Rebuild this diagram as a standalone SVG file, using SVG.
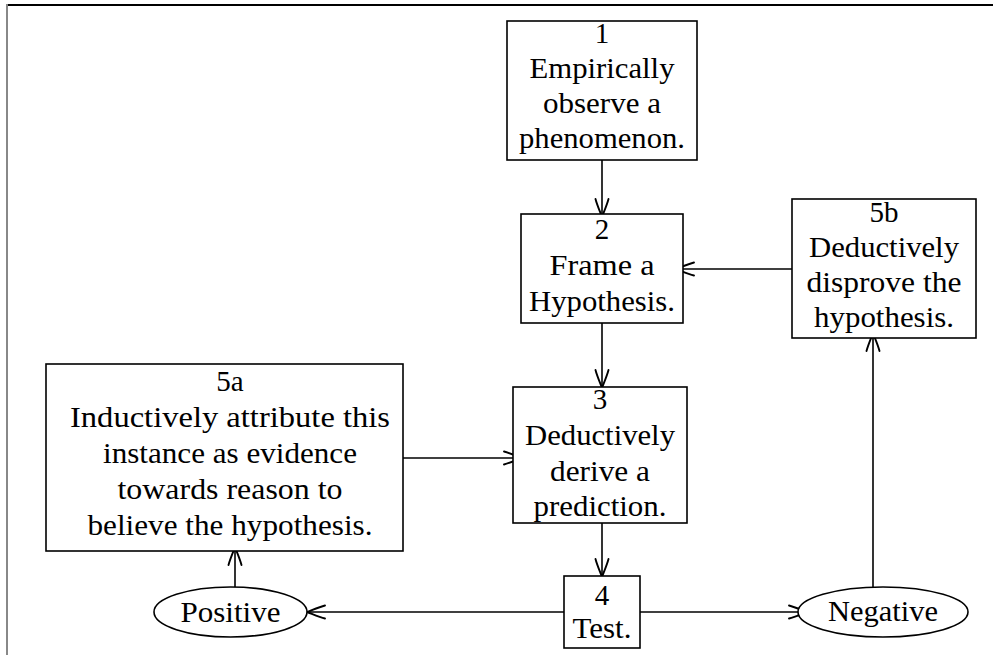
<svg xmlns="http://www.w3.org/2000/svg" width="993" height="655" viewBox="0 0 993 655">
<style>
.box{fill:#fff;stroke:#000;stroke-width:1.6}
.t{font-family:'Liberation Serif','Times New Roman',serif;font-size:29px;fill:#000;text-anchor:middle}
.c{fill:none;stroke:#000;stroke-width:1.6;marker-end:url(#to)}
</style>
<defs>
<marker id="to" markerUnits="userSpaceOnUse" markerWidth="24" markerHeight="24" refX="19" refY="10" orient="auto" overflow="visible">
<path d="M 1,3.5 C 7,5 15,8.6 19,10 C 15,11.4 7,15 1,16.5" fill="none" stroke="#000" stroke-width="1.9" stroke-linecap="round"/>
</marker>
</defs>
<rect width="993" height="655" fill="#fff"/>
<g id="frame">
<line x1="6" y1="5" x2="993" y2="5" stroke="#000" stroke-width="2"/>
<line x1="7" y1="4" x2="7" y2="655" stroke="#888" stroke-width="2"/>
</g>
<g id="connectors">
<line class="c" x1="602" y1="160" x2="602" y2="217"/>
<line class="c" x1="602" y1="323" x2="602" y2="388"/>
<line class="c" x1="602" y1="523" x2="602" y2="577"/>
<line class="c" x1="792" y1="269" x2="676" y2="269"/>
<line class="c" x1="403" y1="458" x2="522" y2="458"/>
<line class="c" x1="564" y1="612" x2="307" y2="612"/>
<line class="c" x1="640" y1="612" x2="807" y2="612"/>
<line class="c" x1="235" y1="587" x2="235" y2="547"/>
<line class="c" x1="873" y1="587" x2="873" y2="333"/>
</g>
<g id="n1">
<rect class="box" x="507" y="21" width="190" height="139"/>
<text class="t" x="602" y="43">1</text>
<text class="t" x="602" y="78" textLength="145" lengthAdjust="spacingAndGlyphs">Empirically</text>
<text class="t" x="602" y="113" textLength="118" lengthAdjust="spacingAndGlyphs">observe a</text>
<text class="t" x="602" y="148" textLength="166" lengthAdjust="spacingAndGlyphs">phenomenon.</text>
</g>
<g id="n2">
<rect class="box" x="521" y="214" width="162" height="109"/>
<text class="t" x="602" y="239">2</text>
<text class="t" x="602" y="275" textLength="105" lengthAdjust="spacingAndGlyphs">Frame a</text>
<text class="t" x="602" y="311" textLength="146" lengthAdjust="spacingAndGlyphs">Hypothesis.</text>
</g>
<g id="n5b">
<rect class="box" x="792" y="199" width="184" height="139"/>
<text class="t" x="884" y="222">5b</text>
<text class="t" x="884" y="257" textLength="150" lengthAdjust="spacingAndGlyphs">Deductively</text>
<text class="t" x="884" y="292" textLength="155" lengthAdjust="spacingAndGlyphs">disprove the</text>
<text class="t" x="884" y="327" textLength="140" lengthAdjust="spacingAndGlyphs">hypothesis.</text>
</g>
<g id="n5a">
<rect class="box" x="46" y="364" width="357" height="187"/>
<text class="t" x="230" y="391">5a</text>
<text class="t" x="230" y="427" textLength="320" lengthAdjust="spacingAndGlyphs">Inductively attribute this</text>
<text class="t" x="230" y="463" textLength="254" lengthAdjust="spacingAndGlyphs">instance as evidence</text>
<text class="t" x="230" y="499" textLength="225" lengthAdjust="spacingAndGlyphs">towards reason to</text>
<text class="t" x="230" y="535" textLength="285" lengthAdjust="spacingAndGlyphs">believe the hypothesis.</text>
</g>
<g id="n3">
<rect class="box" x="513" y="387" width="174" height="136"/>
<text class="t" x="600" y="409">3</text>
<text class="t" x="600" y="445" textLength="150" lengthAdjust="spacingAndGlyphs">Deductively</text>
<text class="t" x="600" y="481" textLength="100" lengthAdjust="spacingAndGlyphs">derive a</text>
<text class="t" x="600" y="516" textLength="133" lengthAdjust="spacingAndGlyphs">prediction.</text>
</g>
<g id="n4">
<rect class="box" x="564" y="576" width="76" height="72"/>
<text class="t" x="602" y="605">4</text>
<text class="t" x="602" y="638" textLength="59" lengthAdjust="spacingAndGlyphs">Test.</text>
</g>
<g id="positive">
<ellipse class="box" cx="230.5" cy="612" rx="76.5" ry="25"/>
<text class="t" x="230.5" y="622" textLength="100" lengthAdjust="spacingAndGlyphs">Positive</text>
</g>
<g id="negative">
<ellipse class="box" cx="883" cy="612" rx="85" ry="25"/>
<text class="t" x="883" y="621" textLength="110" lengthAdjust="spacingAndGlyphs">Negative</text>
</g>
</svg>
